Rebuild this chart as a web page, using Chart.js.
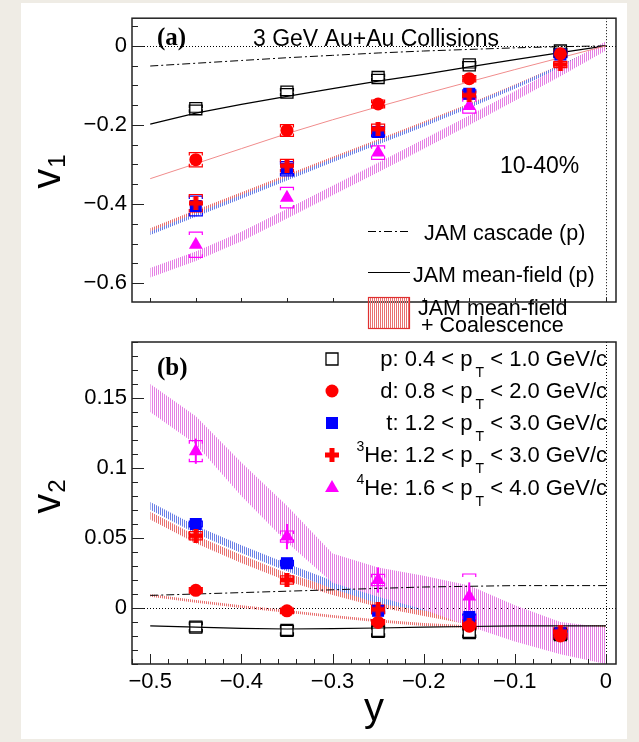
<!DOCTYPE html>
<html>
<head>
<meta charset="utf-8">
<script src="https://cdn.jsdelivr.net/npm/chart.js@4.4.0/dist/chart.umd.min.js"></script>
<style>
  html, body { margin: 0; padding: 0; background: #efece5; }
  #sheet { position: absolute; left: 21px; top: 3px; width: 606px; height: 736px; background: #fff; }
  canvas { position: absolute; left: 0; top: 0; }
</style>
</head>
<body>
<div id="sheet"></div>
<canvas id="cA" width="639" height="742"></canvas>
<canvas id="cB" width="639" height="742"></canvas>
<script>
// rapidity bins of the measured points and the model grid
const yBins = [-0.45, -0.35, -0.25, -0.15, -0.05];
const yGrid = [-0.5, -0.45, -0.4, -0.35, -0.3, -0.25, -0.2, -0.15, -0.1, -0.05, 0];

// tick labels
const xTickVals = [-0.5, -0.4, -0.3, -0.2, -0.1, 0];
const yTicksA = [-0.6, -0.4, -0.2, 0];
const yTicksB = [0, 0.05, 0.1, 0.15];

// (a) v1 data (null = no point shown)
const v1P   = [-0.159, -0.117, -0.080, -0.048, -0.013];
const v1D   = [-0.288, -0.214, -0.147, -0.083, -0.020];
const v1T   = [-0.405, -0.311, -0.218, -0.121, -0.022];
const v1He3 = [-0.398, -0.303, -0.210, -0.125, -0.047];
const v1He4 = [-0.503, -0.384, -0.270, -0.152, null];
const v1SysP   = [0.009, 0.009, 0.008, 0.008, 0.007];
const v1SysD   = [0.018, 0.015, 0.010, 0.008, 0.008];
const v1SysT   = [0.025, 0.018, 0.012, 0.010, 0.008];
const v1SysHe3 = [0.022, 0.016, 0.012, 0.010, 0.008];
const v1SysHe4 = [0.032, 0.026, 0.017, 0.018, 0.010];

// (a) JAM curves
const v1Cascade   = [-0.051, -0.044, -0.037, -0.030, -0.024, -0.018, -0.013, -0.009, -0.005, -0.002, 0];
const v1MeanField = [-0.198, -0.170, -0.148, -0.128, -0.108, -0.089, -0.072, -0.053, -0.035, -0.017, 0];
const v1CoalD     = [-0.336, -0.298, -0.260, -0.222, -0.187, -0.154, -0.122, -0.091, -0.060, -0.030, 0];
const v1CoalT     = [-0.474, -0.428, -0.382, -0.336, -0.290, -0.245, -0.200, -0.153, -0.104, -0.053, 0];
const v1CoalHe3   = [-0.466, -0.420, -0.375, -0.330, -0.285, -0.241, -0.196, -0.150, -0.102, -0.052, 0];
const v1CoalHe4   = [-0.574, -0.532, -0.482, -0.425, -0.366, -0.308, -0.248, -0.188, -0.127, -0.065, 0];

// (b) v2 data
const v2P   = [-0.0136, -0.0160, -0.0167, -0.0175, -0.0190];
const v2D   = [0.0126, -0.0020, -0.0103, -0.0130, -0.0200];
const v2T   = [0.0600, 0.0320, -0.0020, -0.0064, -0.0180];
const v2He3 = [0.0516, 0.0200, -0.0010, -0.0120, -0.0170];
const v2He4 = [0.1120, 0.0510, 0.0200, 0.0083, null];
const v2StatHe4 = [0.009, 0.009, 0.009, 0.010, 0.008];
const v2SysP   = [0.0035, 0.0035, 0.0035, 0.0035, 0.0035];
const v2SysD   = [0.002, 0.002, 0.002, 0.002, 0.002];
const v2SysT   = [0.002, 0.002, 0.002, 0.002, 0.002];
const v2SysHe3 = [0.003, 0.003, 0.003, 0.003, 0.003];
const v2SysHe4 = [0.0075, 0.004, 0.004, 0.016, 0.005];

// (b) JAM curves
const v2Cascade   = [0.009, 0.010, 0.011, 0.012, 0.013, 0.014, 0.015, 0.0155, 0.016, 0.016, 0.016];
const v2MeanField = [-0.0127, -0.0137, -0.0145, -0.0150, -0.0148, -0.0143, -0.0137, -0.0132, -0.0128, -0.0127, -0.0127];
const v2CoalD     = [0.0090, 0.0047, 0.0010, -0.0024, -0.0060, -0.0092, -0.0118, -0.0133, -0.0140, -0.0142, -0.0142];
const v2CoalT     = [0.073, 0.056, 0.042, 0.029, 0.0166, 0.006, 0.001, -0.0048, -0.0127, -0.0167, -0.0178];
const v2CoalHe3   = [0.066, 0.049, 0.035, 0.022, 0.012, 0.0036, -0.003, -0.009, -0.013, -0.015, -0.015];
const v2CoalHe4Hi = [0.160, 0.137, 0.104, 0.073, 0.039, 0.029, 0.023, 0.016, 0.002, -0.010, -0.014];
const v2CoalHe4Lo = [0.140, 0.117, 0.080, 0.047, 0.018, 0.008, -0.001, -0.013, -0.024, -0.033, -0.040];

// legend labels
const legendA = ['JAM cascade (p)', 'JAM mean-field (p)', 'JAM mean-field', '+ Coalescence'];
const legendB = [
  [{ t: 'p: 0.4 < p' }, { t: 'T', sub: 1 }, { t: ' < 1.0 GeV/c' }],
  [{ t: 'd: 0.8 < p' }, { t: 'T', sub: 1 }, { t: ' < 2.0 GeV/c' }],
  [{ t: 't: 1.2 < p' }, { t: 'T', sub: 1 }, { t: ' < 3.0 GeV/c' }],
  [{ t: '3', sup: 1 }, { t: 'He: 1.2 < p' }, { t: 'T', sub: 1 }, { t: ' < 3.0 GeV/c' }],
  [{ t: '4', sup: 1 }, { t: 'He: 1.6 < p' }, { t: 'T', sub: 1 }, { t: ' < 4.0 GeV/c' }]
];
const legendKeys = ['p', 'd', 't', 'he3', 'he4'];

const FONT = "'Liberation Sans', Arial, Helvetica, sans-serif";
const SERIF = "'Liberation Serif', 'Times New Roman', serif";
const DASHDOT = [8, 3, 2, 3];

// hatch pattern like the ROOT fill styles
function hatch(color) {
  const c = document.createElement('canvas');
  c.width = 2; c.height = 2;
  const g = c.getContext('2d');
  g.fillStyle = color;
  g.fillRect(0, 0, 1, 2);
  return g.createPattern(c, 'repeat');
}
const HATCH_MAG = hatch('#e57fe5');
const HATCH_BLUE = hatch('#6a7fe6');
const HATCH_RED = hatch('#e87070');

// thick plus used for 3He
function plusImage(size, bar, color) {
  const c = document.createElement('canvas');
  c.width = size; c.height = size;
  const g = c.getContext('2d');
  g.fillStyle = color;
  const o = (size - bar) / 2;
  g.fillRect(o, 0, bar, size);
  g.fillRect(0, o, size, bar);
  return c;
}
const PLUS = plusImage(14, 5, '#ff0000');

const pts = (xs, ys) => xs.map((x, i) => ({ x: x, y: ys[i] }));
const shift = (ys, d) => ys.map(v => v + d);

function band(hi, lo, fillStyle) {
  return [
    { data: pts(yGrid, hi), showLine: true, fill: '+1', backgroundColor: fillStyle, borderWidth: 0, pointRadius: 0, order: 10 },
    { data: pts(yGrid, lo), showLine: true, fill: false, borderWidth: 0, pointRadius: 0, order: 10 }
  ];
}
function curve(ys, color, width, dash) {
  return { data: pts(yGrid, ys), showLine: true, fill: false, borderColor: color, borderWidth: width, borderDash: dash || [], pointRadius: 0, order: 5 };
}
function markers(key, ys, style, radius, fillCol, borderCol, order) {
  return {
    isMarker: true, key: key, data: pts(yBins, ys), showLine: false, order: order,
    pointStyle: style, pointRadius: radius, pointBackgroundColor: fillCol,
    pointBorderColor: borderCol, pointBorderWidth: fillCol === 'transparent' ? 1.3 : 0
  };
}
// drawing order as in the figure: p, t, 4He, 3He, d on top
function species(p, d, t, he3, he4) {
  return [
    markers('p', p, 'rect', 8.5, 'transparent', '#000', -1),
    markers('t', t, 'rect', 8.5, '#0000ff', '#0000ff', -2),
    markers('he4', he4, 'triangle', 8, '#ff00ff', '#ff00ff', -3),
    markers('he3', he3, PLUS, 7, '#ff0000', '#ff0000', -4),
    markers('d', d, 'circle', 6.5, '#ff0000', '#ff0000', -5)
  ];
}

const fmt = v => v === 0 ? '0' : (v < 0 ? '\u2212' : '') + String(Math.abs(v));

function drawSys(ctx, xs, ys, sys, stat, color, xs_, ys_) {
  ctx.save();
  ctx.strokeStyle = color;
  ctx.lineWidth = 1.2;
  xs.forEach((x, i) => {
    if (ys[i] === null) return;
    const px = xs_.getPixelForValue(x);
    if (sys) {
      const top = ys_.getPixelForValue(ys[i] + sys[i]);
      const bot = ys_.getPixelForValue(ys[i] - sys[i]);
      const hw = 6.5, tk = Math.min(3, (bot - top) / 2);
      ctx.beginPath();
      ctx.moveTo(px - hw, top + tk); ctx.lineTo(px - hw, top); ctx.lineTo(px + hw, top); ctx.lineTo(px + hw, top + tk);
      ctx.moveTo(px - hw, bot - tk); ctx.lineTo(px - hw, bot); ctx.lineTo(px + hw, bot); ctx.lineTo(px + hw, bot - tk);
      ctx.stroke();
    }
    if (stat) {
      ctx.save();
      ctx.lineWidth = 2;
      ctx.beginPath();
      ctx.moveTo(px, ys_.getPixelForValue(ys[i] + stat[i]));
      ctx.lineTo(px, ys_.getPixelForValue(ys[i] - stat[i]));
      ctx.stroke();
      ctx.restore();
    }
  });
  ctx.restore();
}

function ticksY(ctx, sc, area, step, len) {
  const k0 = Math.ceil(sc.min / step - 1e-6), k1 = Math.floor(sc.max / step + 1e-6);
  for (let k = k0; k <= k1; k++) {
    const y = Math.round(sc.getPixelForValue(k * step)) + 0.5;
    ctx.moveTo(area.left, y); ctx.lineTo(area.left + len, y);
  }
}
function ticksX(ctx, sc, area, step, len) {
  const k0 = Math.ceil(sc.min / step - 1e-6), k1 = Math.floor(sc.max / step + 1e-6);
  for (let k = k0; k <= k1; k++) {
    const x = Math.round(sc.getPixelForValue(k * step)) + 0.5;
    ctx.moveTo(x, area.bottom); ctx.lineTo(x, area.bottom - len);
  }
}

function vTitle(ctx, baseX, midY, sub) {
  ctx.save();
  ctx.translate(baseX, midY);
  ctx.rotate(-Math.PI / 2);
  ctx.fillStyle = '#000';
  ctx.font = '40px ' + FONT;
  const w1 = ctx.measureText('v').width;
  ctx.font = '24px ' + FONT;
  const w2 = ctx.measureText(sub).width;
  const x0 = -(w1 + w2) / 2;
  ctx.font = '40px ' + FONT;
  ctx.fillText('v', x0, 0);
  ctx.font = '24px ' + FONT;
  ctx.fillText(sub, x0 + w1 + 1, 5);
  ctx.restore();
}

function richText(ctx, segs, xRight, base, size) {
  const small = Math.round(size * 0.62);
  let w = 0;
  segs.forEach(s => {
    ctx.font = (s.sub || s.sup ? small : size) + 'px ' + FONT;
    w += ctx.measureText(s.t).width + (s.sub ? 3 : 0);
  });
  let x = xRight - w;
  segs.forEach(s => {
    ctx.font = (s.sub || s.sup ? small : size) + 'px ' + FONT;
    if (s.sub) x += 3;
    const dy = s.sub ? 11 : (s.sup ? -11 : 0);
    ctx.fillText(s.t, x, base + dy);
    x += ctx.measureText(s.t).width;
  });
}

function legendMarker(ctx, ds, x, y) {
  ctx.save();
  ctx.fillStyle = ds.pointBackgroundColor;
  ctx.strokeStyle = ds.pointBorderColor;
  ctx.lineWidth = ds.pointBorderWidth;
  Chart.helpers.drawPoint(ctx, { pointStyle: ds.pointStyle, radius: ds.pointRadius, rotation: 0, borderWidth: ds.pointBorderWidth }, x, y);
  ctx.restore();
}

function decor(name, errors, extra) {
  return {
    id: 'decor' + name,
    beforeDatasetsDraw(chart) {
      chart.$sysDone = false;
      const { ctx, chartArea: a, scales } = chart;
      ctx.save();
      ctx.strokeStyle = '#000';
      ctx.lineWidth = 1;
      ctx.setLineDash([1, 2]);
      ctx.beginPath();
      const y0 = Math.round(scales.y.getPixelForValue(0)) + 0.5;
      const x0 = Math.round(scales.x.getPixelForValue(0)) + 0.5;
      ctx.moveTo(a.left, y0); ctx.lineTo(a.right, y0);
      ctx.moveTo(x0, a.top); ctx.lineTo(x0, a.bottom);
      ctx.stroke();
      ctx.restore();
    },
    beforeDatasetDraw(chart, args) {
      const ds = chart.data.datasets[args.index];
      if (ds.isMarker && !chart.$sysDone) {
        chart.$sysDone = true;
        errors.forEach(e => drawSys(chart.ctx, yBins, e.ys, e.sys, e.stat, e.color, chart.scales.x, chart.scales.y));
      }
    },
    afterDraw(chart) {
      const { ctx, chartArea: a } = chart;
      ctx.save();
      ctx.strokeStyle = '#222';
      ctx.lineWidth = 1.5;
      ctx.strokeRect(a.left, a.top, a.right - a.left, a.bottom - a.top);
      ctx.lineWidth = 1;
      ctx.beginPath();
      extra.ticks(ctx, chart);
      ctx.stroke();
      ctx.fillStyle = '#000';
      extra.text(ctx, chart);
      ctx.restore();
    }
  };
}

function baseOptions(pad, yMin, yMax, yTicks, showX) {
  return {
    responsive: false,
    animation: false,
    devicePixelRatio: 1,
    layout: { padding: pad },
    plugins: { legend: { display: false }, tooltip: { enabled: false } },
    scales: {
      x: {
        type: 'linear', min: -0.52, max: 0.011, display: showX,
        grid: { display: false, drawTicks: false }, border: { display: false },
        afterBuildTicks: s => { s.ticks = xTickVals.map(v => ({ value: v })); },
        afterFit: s => { s.height = 40; },
        ticks: { padding: 5, color: '#000', font: { family: FONT, size: 22 }, maxRotation: 0, autoSkip: false, callback: v => fmt(v) }
      },
      y: {
        type: 'linear', min: yMin, max: yMax,
        grid: { display: false, drawTicks: false }, border: { display: false },
        afterBuildTicks: s => { s.ticks = yTicks.map(v => ({ value: v })); },
        afterFit: s => { s.width = 132; },
        ticks: { padding: 5, color: '#000', font: { family: FONT, size: 22 }, callback: v => fmt(v) }
      }
    }
  };
}

// ---------- panel (a) ----------
const dsA = [].concat(
  band(shift(v1CoalHe4, 0.012), shift(v1CoalHe4, -0.012), HATCH_MAG),
  band(shift(v1CoalT, 0.0045), shift(v1CoalT, -0.0045), HATCH_BLUE),
  band(shift(v1CoalHe3, 0.0045), shift(v1CoalHe3, -0.0045), HATCH_RED),
  [curve(v1CoalD, '#f08c8c', 1),
   curve(v1Cascade, '#000', 1, DASHDOT),
   curve(v1MeanField, '#000', 1.2)],
  species(v1P, v1D, v1T, v1He3, v1He4)
);

const errA = [
  { ys: v1P, sys: v1SysP, color: '#000' },
  { ys: v1D, sys: v1SysD, color: '#ff0000' },
  { ys: v1T, sys: v1SysT, color: '#0000ff' },
  { ys: v1He3, sys: v1SysHe3, color: '#ff0000' },
  { ys: v1He4, sys: v1SysHe4, color: '#ff00ff' }
];

new Chart(document.getElementById('cA'), {
  type: 'scatter',
  data: { datasets: dsA },
  options: baseOptions({ left: 0, top: 16, right: 23, bottom: 400 }, -0.648, 0.07, yTicksA, false),
  plugins: [decor('A', errA, {
    ticks(ctx, chart) {
      const a = chart.chartArea;
      ticksY(ctx, chart.scales.y, a, 0.2, 12);
      ticksY(ctx, chart.scales.y, a, 0.05, 6);
      ticksX(ctx, chart.scales.x, a, 0.05, 4);
    },
    text(ctx, chart) {
      ctx.font = 'bold 25px ' + SERIF;
      ctx.fillText('(a)', 157, 45);
      ctx.font = '23px ' + FONT;
      ctx.fillText('3 GeV Au+Au Collisions', 253, 46);
      ctx.fillText('10-40%', 500, 173);
      vTitle(ctx, 60, 172, '1');
      // legend
      ctx.font = '21.5px ' + FONT;
      ctx.fillText(legendA[0], 424, 240);
      ctx.fillText(legendA[1], 413, 282);
      ctx.fillText(legendA[2], 418, 315);
      ctx.fillText(legendA[3], 421, 332);
      ctx.save();
      ctx.strokeStyle = '#000';
      ctx.lineWidth = 1;
      ctx.setLineDash(DASHDOT);
      ctx.beginPath(); ctx.moveTo(368, 231.5); ctx.lineTo(410, 231.5); ctx.stroke();
      ctx.setLineDash([]);
      ctx.lineWidth = 1.2;
      ctx.beginPath(); ctx.moveTo(368, 272.5); ctx.lineTo(410, 272.5); ctx.stroke();
      ctx.fillStyle = HATCH_RED;
      ctx.fillRect(368, 297, 42, 32);
      ctx.strokeStyle = '#e03030';
      ctx.lineWidth = 1.2;
      ctx.strokeRect(368.5, 297.5, 41, 31);
      ctx.restore();
    }
  })]
});

// ---------- panel (b) ----------
const dsB = [].concat(
  band(v2CoalHe4Hi, v2CoalHe4Lo, HATCH_MAG),
  band(shift(v2CoalT, 0.0028), shift(v2CoalT, -0.0028), HATCH_BLUE),
  band(shift(v2CoalHe3, 0.0028), shift(v2CoalHe3, -0.0028), HATCH_RED),
  band(shift(v2CoalD, 0.001), shift(v2CoalD, -0.001), HATCH_RED),
  [curve(v2Cascade, '#000', 1, DASHDOT),
   curve(v2MeanField, '#000', 1.2)],
  species(v2P, v2D, v2T, v2He3, v2He4)
);

const errB = [
  { ys: v2P, sys: v2SysP, color: '#000' },
  { ys: v2T, sys: v2SysT, color: '#0000ff' },
  { ys: v2He4, sys: v2SysHe4, stat: v2StatHe4, color: '#ff00ff' },
  { ys: v2He3, sys: v2SysHe3, color: '#ff0000' },
  { ys: v2D, sys: v2SysD, color: '#ff0000' }
];

const legendRows = [359, 391, 423, 455, 488];

new Chart(document.getElementById('cB'), {
  type: 'scatter',
  data: { datasets: dsB },
  options: baseOptions({ left: 0, top: 342, right: 23, bottom: 38 }, -0.04, 0.19, yTicksB, true),
  plugins: [decor('B', errB, {
    ticks(ctx, chart) {
      const a = chart.chartArea;
      ticksY(ctx, chart.scales.y, a, 0.05, 12);
      ticksY(ctx, chart.scales.y, a, 0.01, 6);
      ticksX(ctx, chart.scales.x, a, 0.1, 10);
      ticksX(ctx, chart.scales.x, a, 0.02, 5);
    },
    text(ctx, chart) {
      ctx.font = 'bold 25px ' + SERIF;
      ctx.fillText('(b)', 157, 375);
      vTitle(ctx, 60, 497, '2');
      ctx.font = '40px ' + FONT;
      ctx.textAlign = 'center';
      ctx.fillText('y', 374, 721);
      ctx.textAlign = 'left';
      const marks = chart.data.datasets.filter(d => d.isMarker);
      legendRows.forEach((ry, i) => {
        const ds = marks.find(m => m.key === legendKeys[i]);
        legendMarker(ctx, ds, 332, ry);
        ctx.fillStyle = '#000';
        richText(ctx, legendB[i], 607, ry + 7, 22);
      });
    }
  })]
});
</script>
</body>
</html>
